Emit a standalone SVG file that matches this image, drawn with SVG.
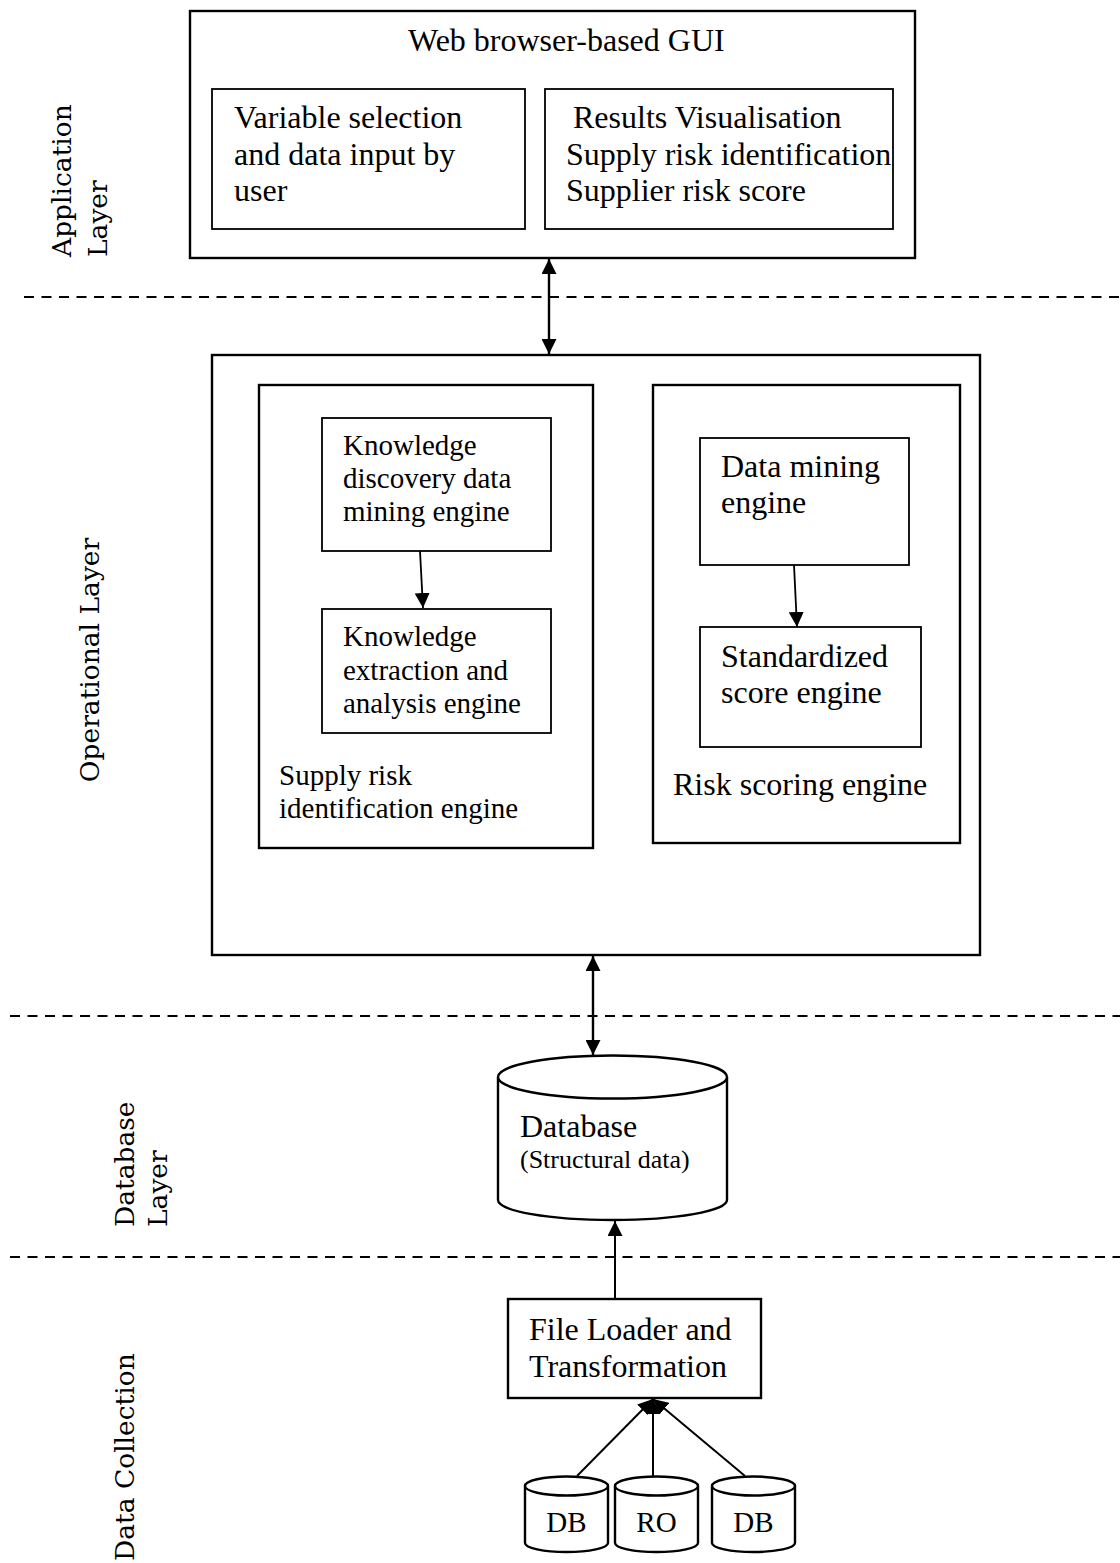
<svg xmlns="http://www.w3.org/2000/svg" width="1120" height="1563" viewBox="0 0 1120 1563">
  <style>
    .box { fill: #fff; stroke: #000; stroke-width: 2.4; }
    .thin { fill: #fff; stroke: #000; stroke-width: 1.8; }
    .t { font-family: "Liberation Serif", "Times New Roman", serif; font-size: 32px; fill: #000; }
    .m { font-size: 29px; }
    .small { font-size: 26px; }
    .side { font-family: "DejaVu Serif", "Liberation Serif", serif; font-size: 26.5px; fill: #000; }
    .dash { stroke: #000; stroke-width: 2; stroke-dasharray: 10 7.5; fill: none; }
    .link { stroke: #000; fill: none; }
  </style>
  <defs>
    <marker id="head" viewBox="0 0 10 10" refX="10" refY="5" markerWidth="15" markerHeight="15" markerUnits="userSpaceOnUse" orient="auto-start-reverse">
      <path d="M0,0 L10,5 L0,10 z" fill="#000"/>
    </marker>
  </defs>

  <!-- layer separators -->
  <g id="separators">
    <line class="dash" x1="24" y1="297" x2="1120" y2="297"/>
    <line class="dash" x1="10" y1="1016" x2="1120" y2="1016"/>
    <line class="dash" x1="10" y1="1257" x2="1120" y2="1257"/>
  </g>

  <!-- layer names -->
  <g id="layer-labels">
    <text class="side" transform="translate(71,257) rotate(-90)">Application</text>
    <text class="side" transform="translate(107,257) rotate(-90)">Layer</text>
    <text class="side" transform="translate(99,660) rotate(-90)" text-anchor="middle">Operational Layer</text>
    <text class="side" transform="translate(134,1227) rotate(-90)">Database</text>
    <text class="side" transform="translate(167,1227) rotate(-90)">Layer</text>
    <text class="side" transform="translate(134,1561) rotate(-90)">Data Collection</text>
  </g>

  <!-- application layer -->
  <g id="gui">
    <rect class="box" x="190" y="11" width="725" height="247"/>
    <text class="t" x="408" y="51">Web browser-based GUI</text>
  </g>
  <g id="variable-selection">
    <rect class="thin" x="212" y="89" width="313" height="140"/>
    <text class="t" x="234" y="128">Variable selection</text>
    <text class="t" x="234" y="165">and data input by</text>
    <text class="t" x="234" y="201">user</text>
  </g>
  <g id="results-visualisation">
    <rect class="thin" x="545" y="89" width="348" height="140"/>
    <text class="t" x="573" y="128">Results Visualisation</text>
    <text class="t" x="566" y="165">Supply risk identification</text>
    <text class="t" x="566" y="201">Supplier risk score</text>
  </g>

  <!-- operational layer -->
  <g id="operational">
    <rect class="box" x="212" y="355" width="768" height="600"/>
  </g>
  <g id="supply-risk-engine">
    <rect class="box" x="259" y="385" width="334" height="463"/>
    <text class="t m" x="279" y="785">Supply risk</text>
    <text class="t m" x="279" y="818">identification engine</text>
  </g>
  <g id="kd-engine">
    <rect class="thin" x="322" y="418" width="229" height="133"/>
    <text class="t m" x="343" y="455">Knowledge</text>
    <text class="t m" x="343" y="488">discovery data</text>
    <text class="t m" x="343" y="521">mining engine</text>
  </g>
  <g id="ke-engine">
    <rect class="thin" x="322" y="609" width="229" height="124"/>
    <text class="t m" x="343" y="646">Knowledge</text>
    <text class="t m" x="343" y="680">extraction and</text>
    <text class="t m" x="343" y="713">analysis engine</text>
  </g>
  <g id="risk-scoring-engine">
    <rect class="box" x="653" y="385" width="307" height="458"/>
    <text class="t" x="673" y="795">Risk scoring engine</text>
  </g>
  <g id="dm-engine">
    <rect class="thin" x="700" y="438" width="209" height="127"/>
    <text class="t" x="721" y="477">Data mining</text>
    <text class="t" x="721" y="513">engine</text>
  </g>
  <g id="score-engine">
    <rect class="thin" x="700" y="627" width="221" height="120"/>
    <text class="t" x="721" y="667">Standardized</text>
    <text class="t" x="721" y="703">score engine</text>
  </g>

  <!-- database layer -->
  <g id="database">
    <path class="box" d="M498,1077 L498,1200 A114.5,20 0 0 0 727,1200 L727,1077"/>
    <ellipse class="box" cx="612.5" cy="1077" rx="114.5" ry="21.5"/>
    <text class="t" x="520" y="1137">Database</text>
    <text class="t small" x="520" y="1168">(Structural data)</text>
  </g>

  <!-- data collection -->
  <g id="file-loader">
    <rect class="box" x="508" y="1299" width="253" height="99"/>
    <text class="t" x="529" y="1340">File Loader and</text>
    <text class="t" x="529" y="1377">Transformation</text>
  </g>
  <g id="source-db-1">
    <path class="box" d="M525,1486 L525,1543 A41.5,9 0 0 0 608,1543 L608,1486"/>
    <ellipse class="box" cx="566.5" cy="1486" rx="41.5" ry="9.5"/>
    <text class="t m" x="566.5" y="1532" text-anchor="middle">DB</text>
  </g>
  <g id="source-ro">
    <path class="box" d="M615,1486 L615,1543 A41.5,9 0 0 0 698,1543 L698,1486"/>
    <ellipse class="box" cx="656.5" cy="1486" rx="41.5" ry="9.5"/>
    <text class="t m" x="656.5" y="1532" text-anchor="middle">RO</text>
  </g>
  <g id="source-db-2">
    <path class="box" d="M712,1486 L712,1543 A41.5,9 0 0 0 795,1543 L795,1486"/>
    <ellipse class="box" cx="753.5" cy="1486" rx="41.5" ry="9.5"/>
    <text class="t m" x="753.5" y="1532" text-anchor="middle">DB</text>
  </g>

  <!-- connectors -->
  <g id="connectors">
    <line class="link" stroke-width="2.4" x1="549" y1="259" x2="549" y2="354" marker-start="url(#head)" marker-end="url(#head)"/>
    <line class="link" stroke-width="2.4" x1="593" y1="956" x2="593" y2="1055" marker-start="url(#head)" marker-end="url(#head)"/>
    <line class="link" stroke-width="1.8" x1="420" y1="551" x2="423" y2="608" marker-end="url(#head)"/>
    <line class="link" stroke-width="1.8" x1="794" y1="565" x2="797" y2="627" marker-end="url(#head)"/>
    <line class="link" stroke-width="2" x1="615" y1="1299" x2="615" y2="1221" marker-end="url(#head)"/>
    <line class="link" stroke-width="2" x1="577" y1="1476" x2="653" y2="1399" marker-end="url(#head)"/>
    <line class="link" stroke-width="2" x1="653" y1="1476" x2="653" y2="1399" marker-end="url(#head)"/>
    <line class="link" stroke-width="2" x1="745" y1="1476" x2="653" y2="1399" marker-end="url(#head)"/>
  </g>
</svg>
